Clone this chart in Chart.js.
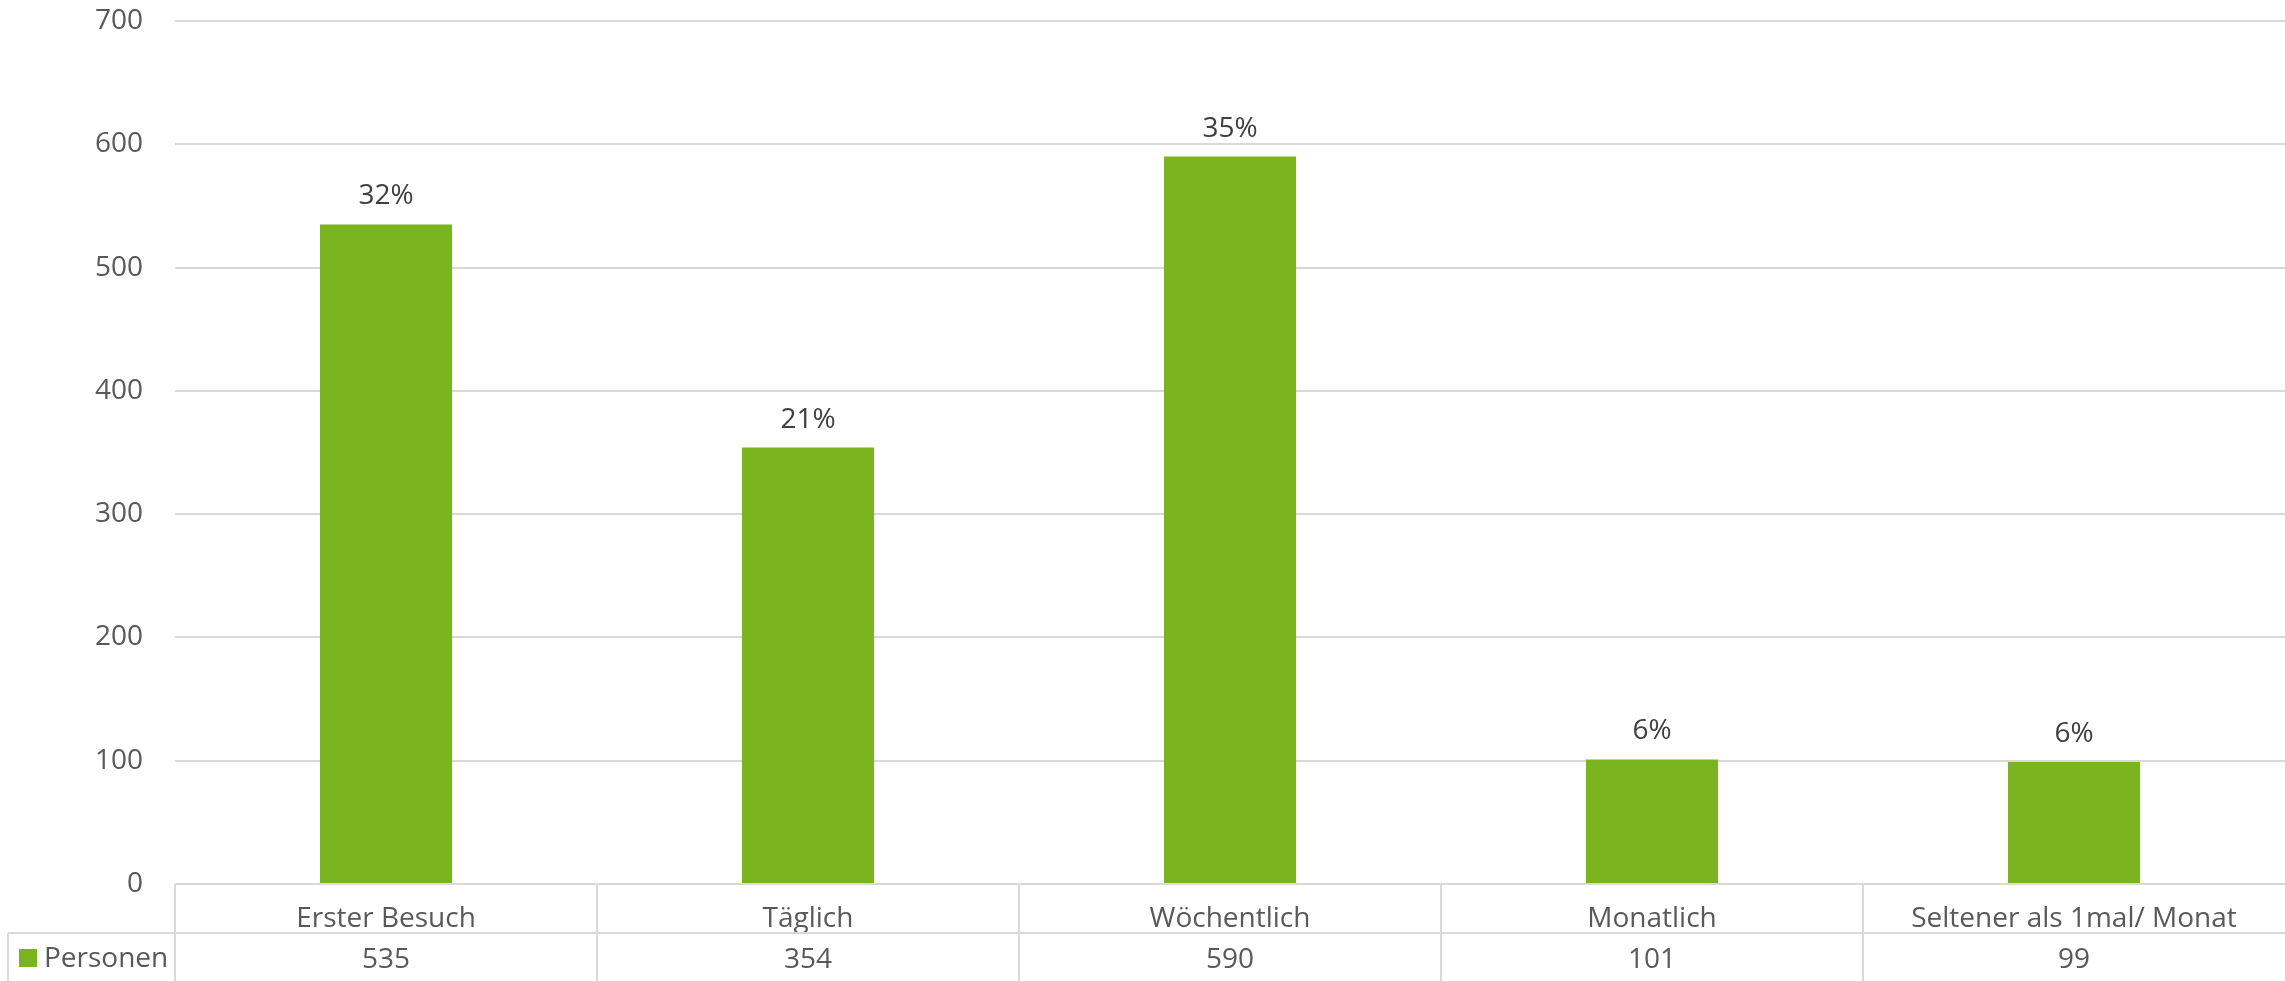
<!DOCTYPE html>
<html>
<head>
<meta charset="utf-8">
<script src="https://cdn.jsdelivr.net/npm/chart.js@4.4.0/dist/chart.umd.min.js"></script>
<style>
  html, body { margin: 0; padding: 0; background: #fff; }
  #wrap { width: 2285px; height: 981px; }
</style>
</head>
<body>
<div id="wrap"><canvas id="barChart" width="2285" height="981"></canvas></div>
<script>
// data
var categories = ["Erster Besuch", "Täglich", "Wöchentlich", "Monatlich", "Seltener als 1mal/ Monat"];
var personen = [535, 354, 590, 101, 99];
var percentLabels = ["32%", "21%", "35%", "6%", "6%"];
var seriesName = "Personen";
var yTicks = [0, 100, 200, 300, 400, 500, 600, 700];

var barColor = "#7AB41E";
var lineColor = "#D9D9D9";
var textColor = "#595959";
var fontFamily = "'Open Sans', 'DejaVu Sans', sans-serif";
var fontSize = 28;
var tableHeight = 97;

// data table under the plot (Excel style)
var tablePlugin = {
  id: "dataTable",
  afterDraw: function(chart) {
    var ctx = chart.ctx;
    var area = chart.chartArea;
    var x = chart.scales.x;
    var top = area.bottom;
    var mid = top + 49;
    var bottom = top + tableHeight;
    ctx.save();
    ctx.strokeStyle = lineColor;
    ctx.lineWidth = 2;
    ctx.beginPath();
    // row divider, starting at the legend cell
    ctx.moveTo(8, mid); ctx.lineTo(area.right, mid);
    // legend cell left edge
    ctx.moveTo(8, mid); ctx.lineTo(8, bottom);
    // column borders
    ctx.moveTo(area.left, top); ctx.lineTo(area.left, bottom);
    for (var i = 0; i < categories.length - 1; i++) {
      var b = (x.getPixelForValue(i) + x.getPixelForValue(i + 1)) / 2;
      ctx.moveTo(b, top); ctx.lineTo(b, bottom);
    }
    ctx.stroke();

    // legend key
    ctx.fillStyle = barColor;
    ctx.fillRect(19, mid + 16, 18, 18);
    ctx.font = fontSize + "px " + fontFamily;
    ctx.fillStyle = textColor;
    ctx.textAlign = "left";
    ctx.textBaseline = "alphabetic";
    ctx.fillText(seriesName, 44, mid + 34);

    // values row
    ctx.textAlign = "center";
    for (var j = 0; j < personen.length; j++) {
      ctx.fillText(String(personen[j]), x.getPixelForValue(j), mid + 35);
    }
    ctx.restore();
  }
};

// percentage labels above bars
var labelPlugin = {
  id: "barLabels",
  afterDatasetsDraw: function(chart) {
    var ctx = chart.ctx;
    var meta = chart.getDatasetMeta(0);
    ctx.save();
    ctx.font = fontSize + "px " + fontFamily;
    ctx.fillStyle = "#404040";
    ctx.textAlign = "center";
    ctx.textBaseline = "alphabetic";
    meta.data.forEach(function(bar, i) {
      ctx.fillText(percentLabels[i], bar.x, bar.y - 20);
    });
    ctx.restore();
  }
};

var chart = new Chart(document.getElementById("barChart"), {
  type: "bar",
  data: {
    labels: categories,
    datasets: [{
      label: seriesName,
      data: personen,
      backgroundColor: barColor,
      borderWidth: 0,
      categoryPercentage: 1,
      barPercentage: 0.313
    }]
  },
  options: {
    responsive: false,
    animation: false,
    layout: { padding: { top: 21, left: 0, right: 0, bottom: 0 } },
    plugins: {
      legend: { display: false },
      tooltip: { enabled: false }
    },
    scales: {
      x: {
        grid: { display: false },
        border: { display: false },
        ticks: {
          color: textColor,
          font: { family: fontFamily, size: fontSize },
          padding: 10,
          maxRotation: 0,
          autoSkip: false
        },
        afterFit: function(scale) { scale.height = tableHeight; }
      },
      y: {
        min: 0,
        max: 700,
        afterBuildTicks: function(scale) {
          scale.ticks = yTicks.map(function(v) { return { value: v }; });
        },
        // invisible tick marks give the label gap without extra top padding
        grid: { color: lineColor, lineWidth: 2, drawTicks: true, tickLength: 32, tickColor: "rgba(0,0,0,0)" },
        border: { display: false },
        ticks: {
          color: textColor,
          font: { family: fontFamily, size: fontSize },
          padding: 0
        },
        afterFit: function(scale) { scale.width = 175; }
      }
    }
  },
  plugins: [tablePlugin, labelPlugin]
});
</script>
</body>
</html>
